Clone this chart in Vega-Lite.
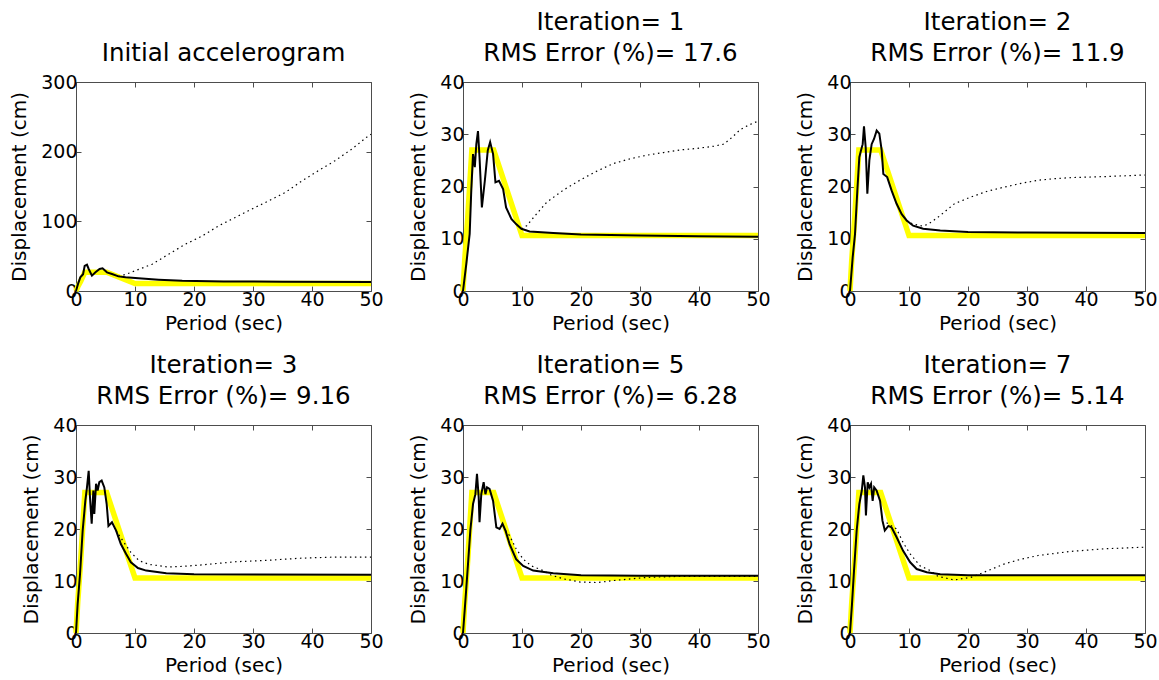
{
  "$schema": "https://vega.github.io/schema/vega-lite/v6.json",
  "background": "white",
  "padding": {"left": 9, "top": 9, "right": 5, "bottom": 5},
  "columns": 3,
  "spacing": {"row": 134, "column": 92},
  "bounds": "flush",
  "datasets": {
    "target": [
      {"T": 0, "D": 0}, {"T": 0.3, "D": 6}, {"T": 0.8, "D": 14}, {"T": 1.5, "D": 27},
      {"T": 5.2, "D": 27}, {"T": 10, "D": 10.6}, {"T": 50, "D": 10.6}
    ],
    "spectra": [
      {"panel": 0, "series": "Iteration", "T": 0, "D": 0},
      {"panel": 0, "series": "Iteration", "T": 0.34, "D": 10},
      {"panel": 0, "series": "Iteration", "T": 0.73, "D": 19.6},
      {"panel": 0, "series": "Iteration", "T": 1.2, "D": 24},
      {"panel": 0, "series": "Iteration", "T": 1.47, "D": 36},
      {"panel": 0, "series": "Iteration", "T": 1.86, "D": 37.8},
      {"panel": 0, "series": "Iteration", "T": 2.15, "D": 31.6},
      {"panel": 0, "series": "Iteration", "T": 2.7, "D": 22},
      {"panel": 0, "series": "Iteration", "T": 3.3, "D": 26.8},
      {"panel": 0, "series": "Iteration", "T": 4.0, "D": 31.6},
      {"panel": 0, "series": "Iteration", "T": 4.5, "D": 32.5},
      {"panel": 0, "series": "Iteration", "T": 5.25, "D": 26.8},
      {"panel": 0, "series": "Iteration", "T": 6.1, "D": 24.4},
      {"panel": 0, "series": "Iteration", "T": 7.2, "D": 21},
      {"panel": 0, "series": "Iteration", "T": 8.4, "D": 19.6},
      {"panel": 0, "series": "Iteration", "T": 10.6, "D": 18.2},
      {"panel": 0, "series": "Iteration", "T": 14, "D": 16.3},
      {"panel": 0, "series": "Iteration", "T": 18, "D": 14.8},
      {"panel": 0, "series": "Iteration", "T": 25, "D": 13.8},
      {"panel": 0, "series": "Iteration", "T": 35, "D": 13.3},
      {"panel": 0, "series": "Iteration", "T": 50, "D": 13},
      {"panel": 0, "series": "Other", "T": 7.2, "D": 21},
      {"panel": 0, "series": "Other", "T": 8.5, "D": 24},
      {"panel": 0, "series": "Other", "T": 10, "D": 29},
      {"panel": 0, "series": "Other", "T": 12.9, "D": 38.4},
      {"panel": 0, "series": "Other", "T": 15.7, "D": 52.8},
      {"panel": 0, "series": "Other", "T": 18.5, "D": 67},
      {"panel": 0, "series": "Other", "T": 21.4, "D": 79},
      {"panel": 0, "series": "Other", "T": 24.2, "D": 93.6},
      {"panel": 0, "series": "Other", "T": 27, "D": 105.6},
      {"panel": 0, "series": "Other", "T": 29.8, "D": 117.6},
      {"panel": 0, "series": "Other", "T": 32.7, "D": 129.6},
      {"panel": 0, "series": "Other", "T": 35.5, "D": 141.6},
      {"panel": 0, "series": "Other", "T": 38.3, "D": 158},
      {"panel": 0, "series": "Other", "T": 41.1, "D": 172.8},
      {"panel": 0, "series": "Other", "T": 43.9, "D": 187},
      {"panel": 0, "series": "Other", "T": 46.8, "D": 204},
      {"panel": 0, "series": "Other", "T": 49.6, "D": 223},
      {"panel": 0, "series": "Other", "T": 50, "D": 225},

      {"panel": 1, "series": "Iteration", "T": 0, "D": 0},
      {"panel": 1, "series": "Iteration", "T": 0.56, "D": 5.2},
      {"panel": 1, "series": "Iteration", "T": 1.13, "D": 10.9},
      {"panel": 1, "series": "Iteration", "T": 1.4, "D": 19.2},
      {"panel": 1, "series": "Iteration", "T": 1.7, "D": 26.2},
      {"panel": 1, "series": "Iteration", "T": 2.0, "D": 23.7},
      {"panel": 1, "series": "Iteration", "T": 2.26, "D": 28.1},
      {"panel": 1, "series": "Iteration", "T": 2.54, "D": 30.6},
      {"panel": 1, "series": "Iteration", "T": 2.8, "D": 25.6},
      {"panel": 1, "series": "Iteration", "T": 3.2, "D": 16},
      {"panel": 1, "series": "Iteration", "T": 3.7, "D": 21.1},
      {"panel": 1, "series": "Iteration", "T": 4.2, "D": 26.9},
      {"panel": 1, "series": "Iteration", "T": 4.6, "D": 28.5},
      {"panel": 1, "series": "Iteration", "T": 5.1, "D": 26.2},
      {"panel": 1, "series": "Iteration", "T": 5.5, "D": 20.8},
      {"panel": 1, "series": "Iteration", "T": 6.1, "D": 21.1},
      {"panel": 1, "series": "Iteration", "T": 6.8, "D": 19.5},
      {"panel": 1, "series": "Iteration", "T": 7.3, "D": 16},
      {"panel": 1, "series": "Iteration", "T": 8.2, "D": 13.8},
      {"panel": 1, "series": "Iteration", "T": 9.0, "D": 12.8},
      {"panel": 1, "series": "Iteration", "T": 9.9, "D": 11.9},
      {"panel": 1, "series": "Iteration", "T": 11.3, "D": 11.4},
      {"panel": 1, "series": "Iteration", "T": 15.3, "D": 11.1},
      {"panel": 1, "series": "Iteration", "T": 20, "D": 10.8},
      {"panel": 1, "series": "Iteration", "T": 30, "D": 10.6},
      {"panel": 1, "series": "Iteration", "T": 40, "D": 10.5},
      {"panel": 1, "series": "Iteration", "T": 50, "D": 10.4},
      {"panel": 1, "series": "Other", "T": 9.9, "D": 11.9},
      {"panel": 1, "series": "Other", "T": 10.8, "D": 12.5},
      {"panel": 1, "series": "Other", "T": 12.5, "D": 14.8},
      {"panel": 1, "series": "Other", "T": 14.2, "D": 17},
      {"panel": 1, "series": "Other", "T": 17, "D": 19.3},
      {"panel": 1, "series": "Other", "T": 19.8, "D": 21.2},
      {"panel": 1, "series": "Other", "T": 22.6, "D": 22.9},
      {"panel": 1, "series": "Other", "T": 25.5, "D": 24.4},
      {"panel": 1, "series": "Other", "T": 28.3, "D": 25.3},
      {"panel": 1, "series": "Other", "T": 31.2, "D": 26},
      {"panel": 1, "series": "Other", "T": 34, "D": 26.5},
      {"panel": 1, "series": "Other", "T": 36.8, "D": 27},
      {"panel": 1, "series": "Other", "T": 39.7, "D": 27.3},
      {"panel": 1, "series": "Other", "T": 42.5, "D": 27.7},
      {"panel": 1, "series": "Other", "T": 44.2, "D": 28.1},
      {"panel": 1, "series": "Other", "T": 45.5, "D": 29.3},
      {"panel": 1, "series": "Other", "T": 47, "D": 30.9},
      {"panel": 1, "series": "Other", "T": 48.5, "D": 31.8},
      {"panel": 1, "series": "Other", "T": 50, "D": 32.5},

      {"panel": 2, "series": "Iteration", "T": 0, "D": 0},
      {"panel": 2, "series": "Iteration", "T": 0.45, "D": 6.4},
      {"panel": 2, "series": "Iteration", "T": 0.85, "D": 10.9},
      {"panel": 2, "series": "Iteration", "T": 1.24, "D": 19.2},
      {"panel": 2, "series": "Iteration", "T": 1.58, "D": 25.6},
      {"panel": 2, "series": "Iteration", "T": 1.86, "D": 26.9},
      {"panel": 2, "series": "Iteration", "T": 2.15, "D": 28.1},
      {"panel": 2, "series": "Iteration", "T": 2.37, "D": 31.5},
      {"panel": 2, "series": "Iteration", "T": 2.66, "D": 27.5},
      {"panel": 2, "series": "Iteration", "T": 2.94, "D": 18.6},
      {"panel": 2, "series": "Iteration", "T": 3.28, "D": 25},
      {"panel": 2, "series": "Iteration", "T": 3.67, "D": 28.1},
      {"panel": 2, "series": "Iteration", "T": 4.07, "D": 29.1},
      {"panel": 2, "series": "Iteration", "T": 4.52, "D": 30.7},
      {"panel": 2, "series": "Iteration", "T": 4.97, "D": 30.1},
      {"panel": 2, "series": "Iteration", "T": 5.37, "D": 26.9},
      {"panel": 2, "series": "Iteration", "T": 5.65, "D": 22.4},
      {"panel": 2, "series": "Iteration", "T": 6.3, "D": 21.8},
      {"panel": 2, "series": "Iteration", "T": 7.06, "D": 19.2},
      {"panel": 2, "series": "Iteration", "T": 7.9, "D": 16.7},
      {"panel": 2, "series": "Iteration", "T": 8.76, "D": 14.7},
      {"panel": 2, "series": "Iteration", "T": 9.6, "D": 13.5},
      {"panel": 2, "series": "Iteration", "T": 10.7, "D": 12.5},
      {"panel": 2, "series": "Iteration", "T": 12.4, "D": 11.9},
      {"panel": 2, "series": "Iteration", "T": 15.3, "D": 11.6},
      {"panel": 2, "series": "Iteration", "T": 20, "D": 11.3},
      {"panel": 2, "series": "Iteration", "T": 30, "D": 11.2},
      {"panel": 2, "series": "Iteration", "T": 50, "D": 11.1},
      {"panel": 2, "series": "Other", "T": 9.6, "D": 13.5},
      {"panel": 2, "series": "Other", "T": 10.7, "D": 12.8},
      {"panel": 2, "series": "Other", "T": 12.4, "D": 12.4},
      {"panel": 2, "series": "Other", "T": 13.4, "D": 12.9},
      {"panel": 2, "series": "Other", "T": 14.9, "D": 14.1},
      {"panel": 2, "series": "Other", "T": 17.7, "D": 16.7},
      {"panel": 2, "series": "Other", "T": 20.5, "D": 18},
      {"panel": 2, "series": "Other", "T": 23.3, "D": 19.1},
      {"panel": 2, "series": "Other", "T": 26.2, "D": 19.9},
      {"panel": 2, "series": "Other", "T": 29, "D": 20.6},
      {"panel": 2, "series": "Other", "T": 31.9, "D": 21.2},
      {"panel": 2, "series": "Other", "T": 34.7, "D": 21.5},
      {"panel": 2, "series": "Other", "T": 37.5, "D": 21.7},
      {"panel": 2, "series": "Other", "T": 43.2, "D": 21.9},
      {"panel": 2, "series": "Other", "T": 50, "D": 22.2},

      {"panel": 3, "series": "Iteration", "T": 0, "D": 0},
      {"panel": 3, "series": "Iteration", "T": 0.28, "D": 5.6},
      {"panel": 3, "series": "Iteration", "T": 0.68, "D": 11.3},
      {"panel": 3, "series": "Iteration", "T": 1.13, "D": 19.7},
      {"panel": 3, "series": "Iteration", "T": 1.58, "D": 25.4},
      {"panel": 3, "series": "Iteration", "T": 1.86, "D": 28},
      {"panel": 3, "series": "Iteration", "T": 2.15, "D": 31.2},
      {"panel": 3, "series": "Iteration", "T": 2.37, "D": 26.1},
      {"panel": 3, "series": "Iteration", "T": 2.66, "D": 21},
      {"panel": 3, "series": "Iteration", "T": 2.94, "D": 27.4},
      {"panel": 3, "series": "Iteration", "T": 3.1, "D": 22.9},
      {"panel": 3, "series": "Iteration", "T": 3.4, "D": 28.7},
      {"panel": 3, "series": "Iteration", "T": 3.67, "D": 27.4},
      {"panel": 3, "series": "Iteration", "T": 3.95, "D": 29},
      {"panel": 3, "series": "Iteration", "T": 4.35, "D": 29.3},
      {"panel": 3, "series": "Iteration", "T": 4.8, "D": 28},
      {"panel": 3, "series": "Iteration", "T": 5.2, "D": 24.8},
      {"panel": 3, "series": "Iteration", "T": 5.5, "D": 20.6},
      {"panel": 3, "series": "Iteration", "T": 6.1, "D": 21.3},
      {"panel": 3, "series": "Iteration", "T": 6.8, "D": 19.7},
      {"panel": 3, "series": "Iteration", "T": 7.6, "D": 17.1},
      {"panel": 3, "series": "Iteration", "T": 8.5, "D": 15.2},
      {"panel": 3, "series": "Iteration", "T": 9.3, "D": 13.6},
      {"panel": 3, "series": "Iteration", "T": 10.5, "D": 12.5},
      {"panel": 3, "series": "Iteration", "T": 11.9, "D": 12},
      {"panel": 3, "series": "Iteration", "T": 15.3, "D": 11.5},
      {"panel": 3, "series": "Iteration", "T": 20, "D": 11.3},
      {"panel": 3, "series": "Iteration", "T": 50, "D": 11.2},
      {"panel": 3, "series": "Other", "T": 6.8, "D": 19.7},
      {"panel": 3, "series": "Other", "T": 7.9, "D": 17.8},
      {"panel": 3, "series": "Other", "T": 9.3, "D": 15.5},
      {"panel": 3, "series": "Other", "T": 10.7, "D": 13.9},
      {"panel": 3, "series": "Other", "T": 12.4, "D": 13.2},
      {"panel": 3, "series": "Other", "T": 15.5, "D": 12.7},
      {"panel": 3, "series": "Other", "T": 18, "D": 12.8},
      {"panel": 3, "series": "Other", "T": 21.4, "D": 13.1},
      {"panel": 3, "series": "Other", "T": 27, "D": 13.7},
      {"panel": 3, "series": "Other", "T": 32.7, "D": 14},
      {"panel": 3, "series": "Other", "T": 38.3, "D": 14.4},
      {"panel": 3, "series": "Other", "T": 44, "D": 14.6},
      {"panel": 3, "series": "Other", "T": 50, "D": 14.6},

      {"panel": 4, "series": "Iteration", "T": 0, "D": 0},
      {"panel": 4, "series": "Iteration", "T": 0.45, "D": 6.9},
      {"panel": 4, "series": "Iteration", "T": 0.85, "D": 13.3},
      {"panel": 4, "series": "Iteration", "T": 1.24, "D": 19.7},
      {"panel": 4, "series": "Iteration", "T": 1.7, "D": 24.8},
      {"panel": 4, "series": "Iteration", "T": 2.1, "D": 26.7},
      {"panel": 4, "series": "Iteration", "T": 2.37, "D": 30.6},
      {"panel": 4, "series": "Iteration", "T": 2.66, "D": 26.1},
      {"panel": 4, "series": "Iteration", "T": 2.8, "D": 21.3},
      {"panel": 4, "series": "Iteration", "T": 3.1, "D": 26.7},
      {"panel": 4, "series": "Iteration", "T": 3.5, "D": 29},
      {"panel": 4, "series": "Iteration", "T": 3.8, "D": 26.7},
      {"panel": 4, "series": "Iteration", "T": 4.07, "D": 28},
      {"panel": 4, "series": "Iteration", "T": 4.5, "D": 27.7},
      {"panel": 4, "series": "Iteration", "T": 5.1, "D": 25.4},
      {"panel": 4, "series": "Iteration", "T": 5.65, "D": 20.3},
      {"panel": 4, "series": "Iteration", "T": 6.2, "D": 20},
      {"panel": 4, "series": "Iteration", "T": 6.7, "D": 21},
      {"panel": 4, "series": "Iteration", "T": 7.2, "D": 19.7},
      {"panel": 4, "series": "Iteration", "T": 7.9, "D": 17.1},
      {"panel": 4, "series": "Iteration", "T": 9.0, "D": 14.2},
      {"panel": 4, "series": "Iteration", "T": 10.2, "D": 12.9},
      {"panel": 4, "series": "Iteration", "T": 11.9, "D": 12},
      {"panel": 4, "series": "Iteration", "T": 15.3, "D": 11.5},
      {"panel": 4, "series": "Iteration", "T": 20, "D": 11.1},
      {"panel": 4, "series": "Iteration", "T": 30, "D": 11},
      {"panel": 4, "series": "Iteration", "T": 50, "D": 11},
      {"panel": 4, "series": "Other", "T": 7.2, "D": 19.7},
      {"panel": 4, "series": "Other", "T": 7.9, "D": 18.7},
      {"panel": 4, "series": "Other", "T": 9.0, "D": 16.2},
      {"panel": 4, "series": "Other", "T": 10.2, "D": 14.2},
      {"panel": 4, "series": "Other", "T": 11.6, "D": 12.9},
      {"panel": 4, "series": "Other", "T": 13.6, "D": 12},
      {"panel": 4, "series": "Other", "T": 15, "D": 11.1},
      {"panel": 4, "series": "Other", "T": 17.1, "D": 10.4},
      {"panel": 4, "series": "Other", "T": 19.9, "D": 9.8},
      {"panel": 4, "series": "Other", "T": 22.8, "D": 9.7},
      {"panel": 4, "series": "Other", "T": 25.6, "D": 10.1},
      {"panel": 4, "series": "Other", "T": 31.2, "D": 10.7},
      {"panel": 4, "series": "Other", "T": 36.9, "D": 10.9},
      {"panel": 4, "series": "Other", "T": 50, "D": 10.9},

      {"panel": 5, "series": "Iteration", "T": 0, "D": 0},
      {"panel": 5, "series": "Iteration", "T": 0.34, "D": 5.6},
      {"panel": 5, "series": "Iteration", "T": 0.68, "D": 12},
      {"panel": 5, "series": "Iteration", "T": 1.13, "D": 19.7},
      {"panel": 5, "series": "Iteration", "T": 1.58, "D": 24.8},
      {"panel": 5, "series": "Iteration", "T": 2.0, "D": 27.4},
      {"panel": 5, "series": "Iteration", "T": 2.26, "D": 30.3},
      {"panel": 5, "series": "Iteration", "T": 2.54, "D": 28},
      {"panel": 5, "series": "Iteration", "T": 2.7, "D": 22.6},
      {"panel": 5, "series": "Iteration", "T": 3.0, "D": 29},
      {"panel": 5, "series": "Iteration", "T": 3.28, "D": 28},
      {"panel": 5, "series": "Iteration", "T": 3.56, "D": 28.7},
      {"panel": 5, "series": "Iteration", "T": 3.84, "D": 25.4},
      {"panel": 5, "series": "Iteration", "T": 4.1, "D": 28},
      {"panel": 5, "series": "Iteration", "T": 4.5, "D": 27.4},
      {"panel": 5, "series": "Iteration", "T": 5.1, "D": 25.4},
      {"panel": 5, "series": "Iteration", "T": 5.5, "D": 21.6},
      {"panel": 5, "series": "Iteration", "T": 5.9, "D": 19.7},
      {"panel": 5, "series": "Iteration", "T": 6.5, "D": 20.6},
      {"panel": 5, "series": "Iteration", "T": 7.06, "D": 20.3},
      {"panel": 5, "series": "Iteration", "T": 7.9, "D": 18.4},
      {"panel": 5, "series": "Iteration", "T": 9.0, "D": 15.8},
      {"panel": 5, "series": "Iteration", "T": 10.2, "D": 13.6},
      {"panel": 5, "series": "Iteration", "T": 11.3, "D": 12.3},
      {"panel": 5, "series": "Iteration", "T": 13, "D": 11.7},
      {"panel": 5, "series": "Iteration", "T": 15.3, "D": 11.3},
      {"panel": 5, "series": "Iteration", "T": 20, "D": 11.1},
      {"panel": 5, "series": "Iteration", "T": 50, "D": 11.1},
      {"panel": 5, "series": "Other", "T": 6.2, "D": 21.2},
      {"panel": 5, "series": "Other", "T": 7.9, "D": 20},
      {"panel": 5, "series": "Other", "T": 9.0, "D": 17.4},
      {"panel": 5, "series": "Other", "T": 10.2, "D": 15.2},
      {"panel": 5, "series": "Other", "T": 11.9, "D": 12.9},
      {"panel": 5, "series": "Other", "T": 13.6, "D": 12},
      {"panel": 5, "series": "Other", "T": 14.9, "D": 10.9},
      {"panel": 5, "series": "Other", "T": 17.7, "D": 10.2},
      {"panel": 5, "series": "Other", "T": 20.5, "D": 10.7},
      {"panel": 5, "series": "Other", "T": 23.4, "D": 12},
      {"panel": 5, "series": "Other", "T": 26.2, "D": 13.3},
      {"panel": 5, "series": "Other", "T": 29, "D": 14.2},
      {"panel": 5, "series": "Other", "T": 31.9, "D": 14.9},
      {"panel": 5, "series": "Other", "T": 37.5, "D": 15.7},
      {"panel": 5, "series": "Other", "T": 43.2, "D": 16.2},
      {"panel": 5, "series": "Other", "T": 50, "D": 16.5}
    ]
  },
  "concat": [
    {
      "title": {"text": "Initial accelerogram"},
      "width": 295, "height": 209,
      "resolve": {"axis": {"x": "independent", "y": "independent"}},
      "layer": [
        {"data": {"name": "target"}, "mark": {"type": "line", "color": "#ffff00", "strokeWidth": 5.5},
         "encoding": {
           "x": {"field": "T", "type": "quantitative", "scale": {"domain": [0, 50], "nice": false}, "axis": {"title": "Period (sec)", "values": [0, 10, 20, 30, 40, 50]}},
           "y": {"field": "D", "type": "quantitative", "scale": {"domain": [0, 300], "nice": false}, "axis": {"title": "Displacement (cm)", "values": [0, 100, 200, 300]}}}},
        {"data": {"name": "spectra"}, "transform": [{"filter": "datum.panel == 0 && datum.series == 'Iteration'"}],
         "mark": {"type": "line", "color": "black", "strokeWidth": 2},
         "encoding": {
           "x": {"field": "T", "type": "quantitative", "axis": {"orient": "top", "labels": false, "title": null, "values": [0, 10, 20, 30, 40, 50]}},
           "y": {"field": "D", "type": "quantitative", "axis": {"orient": "right", "labels": false, "title": null, "values": [0, 100, 200, 300]}}}},
        {"data": {"name": "spectra"}, "transform": [{"filter": "datum.panel == 0 && datum.series == 'Other'"}],
         "mark": {"type": "line", "color": "black", "strokeWidth": 1.2, "strokeDash": [1.5, 3.5]},
         "encoding": {
           "x": {"field": "T", "type": "quantitative", "axis": null},
           "y": {"field": "D", "type": "quantitative", "axis": null}}}
      ]
    },
    {
      "title": {"text": ["Iteration= 1", "RMS Error (%)= 17.6"]},
      "width": 295, "height": 209,
      "resolve": {"axis": {"x": "independent", "y": "independent"}},
      "layer": [
        {"data": {"name": "target"}, "mark": {"type": "line", "color": "#ffff00", "strokeWidth": 5.5},
         "encoding": {
           "x": {"field": "T", "type": "quantitative", "scale": {"domain": [0, 50], "nice": false}, "axis": {"title": "Period (sec)", "values": [0, 10, 20, 30, 40, 50]}},
           "y": {"field": "D", "type": "quantitative", "scale": {"domain": [0, 40], "nice": false}, "axis": {"title": "Displacement (cm)", "values": [0, 10, 20, 30, 40]}}}},
        {"data": {"name": "spectra"}, "transform": [{"filter": "datum.panel == 1 && datum.series == 'Iteration'"}],
         "mark": {"type": "line", "color": "black", "strokeWidth": 2},
         "encoding": {
           "x": {"field": "T", "type": "quantitative", "axis": {"orient": "top", "labels": false, "title": null, "values": [0, 10, 20, 30, 40, 50]}},
           "y": {"field": "D", "type": "quantitative", "axis": {"orient": "right", "labels": false, "title": null, "values": [0, 10, 20, 30, 40]}}}},
        {"data": {"name": "spectra"}, "transform": [{"filter": "datum.panel == 1 && datum.series == 'Other'"}],
         "mark": {"type": "line", "color": "black", "strokeWidth": 1.2, "strokeDash": [1.5, 3.5]},
         "encoding": {
           "x": {"field": "T", "type": "quantitative", "axis": null},
           "y": {"field": "D", "type": "quantitative", "axis": null}}}
      ]
    },
    {
      "title": {"text": ["Iteration= 2", "RMS Error (%)= 11.9"]},
      "width": 295, "height": 209,
      "resolve": {"axis": {"x": "independent", "y": "independent"}},
      "layer": [
        {"data": {"name": "target"}, "mark": {"type": "line", "color": "#ffff00", "strokeWidth": 5.5},
         "encoding": {
           "x": {"field": "T", "type": "quantitative", "scale": {"domain": [0, 50], "nice": false}, "axis": {"title": "Period (sec)", "values": [0, 10, 20, 30, 40, 50]}},
           "y": {"field": "D", "type": "quantitative", "scale": {"domain": [0, 40], "nice": false}, "axis": {"title": "Displacement (cm)", "values": [0, 10, 20, 30, 40]}}}},
        {"data": {"name": "spectra"}, "transform": [{"filter": "datum.panel == 2 && datum.series == 'Iteration'"}],
         "mark": {"type": "line", "color": "black", "strokeWidth": 2},
         "encoding": {
           "x": {"field": "T", "type": "quantitative", "axis": {"orient": "top", "labels": false, "title": null, "values": [0, 10, 20, 30, 40, 50]}},
           "y": {"field": "D", "type": "quantitative", "axis": {"orient": "right", "labels": false, "title": null, "values": [0, 10, 20, 30, 40]}}}},
        {"data": {"name": "spectra"}, "transform": [{"filter": "datum.panel == 2 && datum.series == 'Other'"}],
         "mark": {"type": "line", "color": "black", "strokeWidth": 1.2, "strokeDash": [1.5, 3.5]},
         "encoding": {
           "x": {"field": "T", "type": "quantitative", "axis": null},
           "y": {"field": "D", "type": "quantitative", "axis": null}}}
      ]
    },
    {
      "title": {"text": ["Iteration= 3", "RMS Error (%)= 9.16"]},
      "width": 295, "height": 208,
      "resolve": {"axis": {"x": "independent", "y": "independent"}},
      "layer": [
        {"data": {"name": "target"}, "mark": {"type": "line", "color": "#ffff00", "strokeWidth": 5.5},
         "encoding": {
           "x": {"field": "T", "type": "quantitative", "scale": {"domain": [0, 50], "nice": false}, "axis": {"title": "Period (sec)", "values": [0, 10, 20, 30, 40, 50]}},
           "y": {"field": "D", "type": "quantitative", "scale": {"domain": [0, 40], "nice": false}, "axis": {"title": "Displacement (cm)", "values": [0, 10, 20, 30, 40]}}}},
        {"data": {"name": "spectra"}, "transform": [{"filter": "datum.panel == 3 && datum.series == 'Iteration'"}],
         "mark": {"type": "line", "color": "black", "strokeWidth": 2},
         "encoding": {
           "x": {"field": "T", "type": "quantitative", "axis": {"orient": "top", "labels": false, "title": null, "values": [0, 10, 20, 30, 40, 50]}},
           "y": {"field": "D", "type": "quantitative", "axis": {"orient": "right", "labels": false, "title": null, "values": [0, 10, 20, 30, 40]}}}},
        {"data": {"name": "spectra"}, "transform": [{"filter": "datum.panel == 3 && datum.series == 'Other'"}],
         "mark": {"type": "line", "color": "black", "strokeWidth": 1.2, "strokeDash": [1.5, 3.5]},
         "encoding": {
           "x": {"field": "T", "type": "quantitative", "axis": null},
           "y": {"field": "D", "type": "quantitative", "axis": null}}}
      ]
    },
    {
      "title": {"text": ["Iteration= 5", "RMS Error (%)= 6.28"]},
      "width": 295, "height": 208,
      "resolve": {"axis": {"x": "independent", "y": "independent"}},
      "layer": [
        {"data": {"name": "target"}, "mark": {"type": "line", "color": "#ffff00", "strokeWidth": 5.5},
         "encoding": {
           "x": {"field": "T", "type": "quantitative", "scale": {"domain": [0, 50], "nice": false}, "axis": {"title": "Period (sec)", "values": [0, 10, 20, 30, 40, 50]}},
           "y": {"field": "D", "type": "quantitative", "scale": {"domain": [0, 40], "nice": false}, "axis": {"title": "Displacement (cm)", "values": [0, 10, 20, 30, 40]}}}},
        {"data": {"name": "spectra"}, "transform": [{"filter": "datum.panel == 4 && datum.series == 'Iteration'"}],
         "mark": {"type": "line", "color": "black", "strokeWidth": 2},
         "encoding": {
           "x": {"field": "T", "type": "quantitative", "axis": {"orient": "top", "labels": false, "title": null, "values": [0, 10, 20, 30, 40, 50]}},
           "y": {"field": "D", "type": "quantitative", "axis": {"orient": "right", "labels": false, "title": null, "values": [0, 10, 20, 30, 40]}}}},
        {"data": {"name": "spectra"}, "transform": [{"filter": "datum.panel == 4 && datum.series == 'Other'"}],
         "mark": {"type": "line", "color": "black", "strokeWidth": 1.2, "strokeDash": [1.5, 3.5]},
         "encoding": {
           "x": {"field": "T", "type": "quantitative", "axis": null},
           "y": {"field": "D", "type": "quantitative", "axis": null}}}
      ]
    },
    {
      "title": {"text": ["Iteration= 7", "RMS Error (%)= 5.14"]},
      "width": 295, "height": 208,
      "resolve": {"axis": {"x": "independent", "y": "independent"}},
      "layer": [
        {"data": {"name": "target"}, "mark": {"type": "line", "color": "#ffff00", "strokeWidth": 5.5},
         "encoding": {
           "x": {"field": "T", "type": "quantitative", "scale": {"domain": [0, 50], "nice": false}, "axis": {"title": "Period (sec)", "values": [0, 10, 20, 30, 40, 50]}},
           "y": {"field": "D", "type": "quantitative", "scale": {"domain": [0, 40], "nice": false}, "axis": {"title": "Displacement (cm)", "values": [0, 10, 20, 30, 40]}}}},
        {"data": {"name": "spectra"}, "transform": [{"filter": "datum.panel == 5 && datum.series == 'Iteration'"}],
         "mark": {"type": "line", "color": "black", "strokeWidth": 2},
         "encoding": {
           "x": {"field": "T", "type": "quantitative", "axis": {"orient": "top", "labels": false, "title": null, "values": [0, 10, 20, 30, 40, 50]}},
           "y": {"field": "D", "type": "quantitative", "axis": {"orient": "right", "labels": false, "title": null, "values": [0, 10, 20, 30, 40]}}}},
        {"data": {"name": "spectra"}, "transform": [{"filter": "datum.panel == 5 && datum.series == 'Other'"}],
         "mark": {"type": "line", "color": "black", "strokeWidth": 1.2, "strokeDash": [1.5, 3.5]},
         "encoding": {
           "x": {"field": "T", "type": "quantitative", "axis": null},
           "y": {"field": "D", "type": "quantitative", "axis": null}}}
      ]
    }
  ],
  "config": {
    "view": {"stroke": "#4d4d4d", "strokeWidth": 1},
    "axis": {
      "grid": false, "domain": false,
      "labelFont": "DejaVu Sans", "labelFontSize": 19, "labelColor": "black",
      "labelFlush": false, "labelOverlap": false,
      "titleFont": "DejaVu Sans", "titleFontSize": 20, "titleFontWeight": "normal", "titleColor": "black",
      "tickColor": "#4d4d4d", "tickSize": -5, "labelPadding": 4, "titlePadding": 4
    },
    "axisY": {"titlePadding": 11},
    "title": {
      "font": "DejaVu Sans", "fontSize": 24.5, "fontWeight": "normal", "color": "black",
      "lineHeight": 31, "baseline": "bottom", "offset": 7, "frame": "group", "anchor": "middle"
    }
  }
}
